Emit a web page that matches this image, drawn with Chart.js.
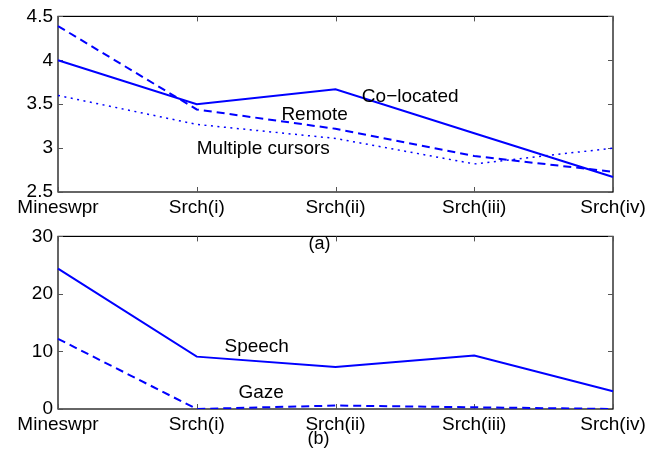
<!DOCTYPE html>
<html lang="en">
<head>
  <meta charset="UTF-8" />
  <title>Collaboration measures</title>
  <style>
    body {
      margin: 0;
      background: #ffffff;
    }
    .wrap {
      position: relative;
      width: 650px;
      height: 452px;
      overflow: hidden;
    }
    #topChart {
      position: absolute;
      left: 0;
      top: 0;
      z-index: 2;
    }
    #bottomChart {
      position: absolute;
      left: 0;
      top: 220px;
      z-index: 1;
    }
  </style>
</head>
<body>
  <div class="wrap">
    <canvas id="topChart" width="650" height="255"></canvas>
    <canvas id="bottomChart" width="650" height="232"></canvas>
  </div>

  <script src="https://cdn.jsdelivr.net/npm/chart.js"></script>
  <script>
    // data
    const categories = ["Mineswpr", "Srch(i)", "Srch(ii)", "Srch(iii)", "Srch(iv)"];

    const colocated = [4.0, 3.5, 3.67, 3.17, 2.67];
    const remote = [4.39, 3.44, 3.22, 2.91, 2.73];
    const multipleCursors = [3.6, 3.27, 3.11, 2.82, 3.0];

    const speech = [24.4, 9.1, 7.3, 9.3, 3.1];
    const gaze = [12.2, 0, 0.6, 0.3, 0];

    const topTicks = [2.5, 3, 3.5, 4, 4.5];
    const bottomTicks = [0, 10, 20, 30];

    const FONT = "'Liberation Sans', Arial, sans-serif";
    const BLUE = "#0000ff";

    // box round the plot with matlab-style inward ticks
    const frame = {
      id: "frame",
      beforeDatasetsDraw(chart) {
        const { ctx, chartArea: a, scales } = chart;
        const x = scales.x, y = scales.y;
        ctx.save();
        ctx.strokeStyle = "#000";
        ctx.lineWidth = 1.2;
        ctx.strokeRect(a.left, a.top, a.right - a.left, a.bottom - a.top);
        ctx.strokeStyle = "#555";
        ctx.lineWidth = 1;
        ctx.beginPath();
        x.ticks.forEach((t, i) => {
          const px = Math.round(x.getPixelForTick(i)) + 0.5;
          ctx.moveTo(px, a.bottom);
          ctx.lineTo(px, a.bottom - 5);
          ctx.moveTo(px, a.top);
          ctx.lineTo(px, a.top + 5);
        });
        y.ticks.forEach(t => {
          const py = Math.round(y.getPixelForValue(t.value)) + 0.5;
          ctx.moveTo(a.left, py);
          ctx.lineTo(a.left + 5, py);
          ctx.moveTo(a.right, py);
          ctx.lineTo(a.right - 5, py);
        });
        ctx.stroke();
        ctx.restore();
      }
    };

    // text labels placed in data units
    const labels = {
      id: "labels",
      afterDraw(chart, args, opts) {
        const { ctx, scales } = chart;
        ctx.save();
        ctx.fillStyle = "#000";
        ctx.textBaseline = "middle";
        opts.items.forEach(t => {
          ctx.font = (t.size || 19) + "px " + FONT;
          ctx.textAlign = t.align || "left";
          ctx.fillText(t.text, scales.x.getPixelForValue(t.x), scales.y.getPixelForValue(t.y));
        });
        ctx.restore();
      }
    };

    function lineSet(label, data, style) {
      const ds = {
        label: label,
        data: data,
        borderColor: BLUE,
        borderWidth: 2,
        pointRadius: 0,
        tension: 0,
        fill: false
      };
      if (style === "dash") ds.borderDash = [8, 5];
      if (style === "dot") {
        ds.borderDash = [2, 4.5];
        ds.borderWidth = 1.5;
      }
      return ds;
    }

    function makeChart(id, datasets, ticks, xHeight, pad, items) {
      const ctx = document.getElementById(id).getContext("2d");
      return new Chart(ctx, {
        type: "line",
        data: { labels: categories, datasets: datasets },
        options: {
          responsive: false,
          animation: false,
          devicePixelRatio: 1,
          layout: { padding: pad },
          plugins: {
            legend: { display: false },
            tooltip: { enabled: false },
            labels: { items: items }
          },
          scales: {
            x: {
              offset: false,
              grid: { display: false, drawTicks: false },
              border: { display: false },
              ticks: {
                color: "#000",
                font: { family: FONT, size: 19 },
                padding: 4,
                maxRotation: 0,
                autoSkip: false
              },
              afterFit: s => { s.height = xHeight; }
            },
            y: {
              min: ticks[0],
              max: ticks[ticks.length - 1],
              grid: { display: false, drawTicks: false },
              border: { display: false },
              ticks: {
                color: "#000",
                font: { family: FONT, size: 19 },
                padding: 5,
                callback: v => String(v)
              },
              afterBuildTicks: s => { s.ticks = ticks.map(v => ({ value: v })); },
              afterFit: s => { s.width = 58; }
            }
          }
        },
        plugins: [frame, labels]
      });
    }

    makeChart("topChart", [
      lineSet("Co-located", colocated, "solid"),
      lineSet("Remote", remote, "dash"),
      lineSet("Multiple cursors", multipleCursors, "dot")
    ], topTicks, 63, { top: 15, right: 37, left: 0, bottom: 0 }, [
      { text: "Co\u2212located", x: 2.19, y: 3.585 },
      { text: "Remote", x: 1.61, y: 3.38 },
      { text: "Multiple cursors", x: 1.0, y: 2.99 },
      { text: "(a)", x: 1.885, y: 1.91, align: "center", size: 18 }
    ]);

    makeChart("bottomChart", [
      lineSet("Speech", speech, "solid"),
      lineSet("Gaze", gaze, "dash")
    ], bottomTicks, 43, { top: 11, right: 37, left: 0, bottom: 0 }, [
      { text: "Speech", x: 1.2, y: 10.8 },
      { text: "Gaze", x: 1.3, y: 2.8 },
      { text: "(b)", x: 1.878, y: -5.3, align: "center", size: 18 }
    ]);
  </script>
</body>
</html>
